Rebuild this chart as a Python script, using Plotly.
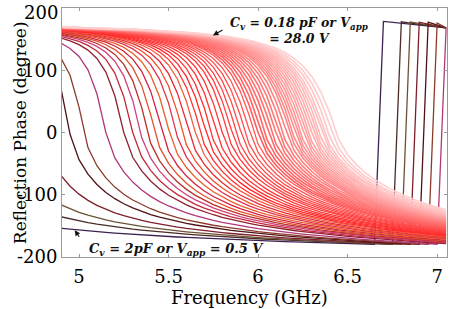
import math
import plotly.graph_objects as go

# ---------------- data ----------------
freq_ghz = [round(4.90 + 0.05 * i, 2) for i in range(44)]          # 4.90 ... 7.05 GHz

bias_v = [round(0.5 * (i + 1), 1) for i in range(56)]                # 0.5 V ... 28.0 V

# frequency where each curve crosses 0 degree (darkest -> lightest)
zero_cross_ghz = [3.995, 4.41, 4.60, 4.80, 4.949, 5.028, 5.15, 5.25, 5.30, 5.345,
                  5.385, 5.425, 5.465, 5.505, 5.545, 5.58, 5.615, 5.65, 5.68, 5.71,
                  5.74, 5.77, 5.80, 5.83, 5.855, 5.88, 5.905, 5.93, 5.955, 5.98,
                  6.00, 6.02, 6.04, 6.06, 6.08, 6.10, 6.12, 6.14, 6.16, 6.18,
                  6.195, 6.21, 6.225, 6.24, 6.255, 6.27, 6.285, 6.30, 6.315, 6.33,
                  6.345, 6.36, 6.375, 6.395, 6.415, 6.44]

# frequency where the seven darkest curves wrap from -180 to +180
wrap_ghz = [6.68, 6.77, 6.82, 6.87, 6.93, 6.98, 7.03]
wrap_phase_start = 179.0     # phase right after the wrap
wrap_phase_end = 168.0       # phase of wrapped curves at 7.05 GHz

y_tick_vals = [-200, -100, 0, 100, 200]
y_tick_text = ["-200", "-100", "0", "100", "200"]
x_tick_vals = [5, 5.5, 6, 6.5, 7]
x_tick_text = ["5", "5.5", "6", "6.5", "7"]

dark_colors = ["#3d2152", "#4a2b26", "#6b5234", "#7d1f2a", "#4f1216", "#8b3b2a", "#b03878",
               "#8f2030", "#c4283c", "#d0407a", "#b8302a", "#e0502c", "#d42040", "#e8602a",
               "#e03050", "#f0502a", "#e82838", "#f06040", "#ff3030"]


def mix(c1, c2, t):
    a = [int(c1[i:i + 2], 16) for i in (1, 3, 5)]
    b = [int(c2[i:i + 2], 16) for i in (1, 3, 5)]
    return "#" + "".join("%02x" % round(a[k] + (b[k] - a[k]) * t) for k in range(3))


n_light = len(zero_cross_ghz) - len(dark_colors)
line_colors = dark_colors + [mix("#ff2a2a", "#ffcfcf", i / (n_light - 1)) for i in range(n_light)]

# transition shape (darkest -> lightest): steep below the 0-degree point,
# slow tail above it that reaches -180 at the wrap frequency
F_DARK, F_LIGHT = 4.75, 6.44
W_LO = (0.05, 0.14)
W_HI = (0.18, 0.35)
P_HI = (0.70, 0.657)


def phase_curve(i):
    f0 = zero_cross_ghz[i]
    wrapped = i < len(wrap_ghz)
    fs = wrap_ghz[i] if wrapped else max(7.1, 1.36 * f0)
    t = min(max((f0 - F_DARK) / (F_LIGHT - F_DARK), 0.0), 1.0)
    w_lo = W_LO[0] + (W_LO[1] - W_LO[0]) * t ** 0.7
    th = min(max((f0 - 4.8) / (F_LIGHT - 4.8), 0.0), 1.0)
    w_hi = W_HI[0] + (W_HI[1] - W_HI[0]) * th
    p_hi = P_HI[0] + (P_HI[1] - P_HI[0]) * th
    out = []
    for f in freq_ghz:
        if wrapped and f >= fs:
            ph = wrap_phase_start - (wrap_phase_start - wrap_phase_end) * (f - fs) / (7.05 - fs)
        elif f <= f0:
            ph = 2 * math.degrees(math.atan((f0 - f) / w_lo))
        else:
            g = (1 - (f / fs) ** 2) / (1 - (f0 / fs) ** 2)
            ph = -2 * math.degrees(math.atan(((f - f0) / w_hi) ** p_hi / max(g, 1e-6)))
        out.append(ph)
    return out


fig = go.Figure()
for i in range(len(zero_cross_ghz)):
    fig.add_trace(go.Scatter(
        x=freq_ghz, y=phase_curve(i), mode="lines",
        line=dict(color=line_colors[i], width=1.3 if i < 30 else 1.6),
        name="V = %.1f V" % bias_v[i], showlegend=False, hoverinfo="skip"))

SERIF = "DejaVu Serif"
fig.update_layout(
    width=450, height=309,
    margin=dict(l=62, r=3, t=8, b=52, autoexpand=False),
    paper_bgcolor="white", plot_bgcolor="white",
    font=dict(family=SERIF, size=18, color="black"),
    showlegend=False,
)
fig.update_xaxes(
    range=[4.905, 7.055], tickvals=x_tick_vals, ticktext=x_tick_text,
    ticks="inside", ticklen=3, tickcolor="#9a9a9a", showline=True, linecolor="#9a9a9a",
    linewidth=1, mirror="ticks", showgrid=False, zeroline=False, automargin=False,
    tickfont=dict(family=SERIF, size=18), ticklabelstandoff=3, ticklabeloverflow="allow",
)
# the top label (200) is drawn a little lower, as in the reference, by an annotation below
fig.update_yaxes(
    range=[-200, 200], tickvals=y_tick_vals,
    ticktext=y_tick_text[:-1] + [""],
    ticks="inside", ticklen=3, tickcolor="#9a9a9a", showline=True, linecolor="#9a9a9a",
    linewidth=1, mirror="ticks", showgrid=False, zeroline=False, automargin=False,
    tickfont=dict(family=SERIF, size=18), ticklabeloverflow="allow",
)
fig.add_annotation(x=-0.006, y=0.98, xref="paper", yref="paper", showarrow=False,
                   text=y_tick_text[-1], font=dict(family=SERIF, size=18),
                   xanchor="right", yanchor="middle")

# axis titles placed like the reference
fig.add_annotation(x=0.487, y=-0.162, xref="paper", yref="paper", showarrow=False,
                   text="Frequency (GHz)", font=dict(family=SERIF, size=18),
                   xanchor="center", yanchor="middle")
fig.add_annotation(x=-0.11, y=0.5, xref="paper", yref="paper", showarrow=False,
                   text="Reflection Phase (degree)", font=dict(family=SERIF, size=17),
                   textangle=-90, xanchor="center", yanchor="middle")

ann_font = dict(family=SERIF, size=12.5, color="#111111")
fig.add_annotation(x=6.229, y=164, xref="x", yref="y", showarrow=False,
                   text="<b><i>C<sub>v</sub> = 0.18 pF or V<sub>app</sub></i></b><br><b><i>= 28.0 V</i></b>",
                   font=ann_font, align="center")
fig.add_annotation(x=5.748, y=156, xref="x", yref="y", text=" ", showarrow=True,
                   ax=14, ay=-8, arrowhead=2, arrowsize=1, arrowwidth=1.1, arrowcolor="#111111")
fig.add_annotation(x=5.545, y=-187.6, xref="x", yref="y", showarrow=False,
                   text="<b><i>C<sub>v</sub> = 2pF or V<sub>app</sub> = 0.5 V</i></b>",
                   font=dict(family=SERIF, size=13, color="#111111"), align="center")
fig.add_annotation(x=4.976, y=-157, xref="x", yref="y", text=" ", showarrow=True,
                   ax=9, ay=13, arrowhead=2, arrowsize=1, arrowwidth=1.1, arrowcolor="#111111")

fig.write_html("out.html", config={"displayModeBar": False},
               post_script="document.body.style.margin='0';document.body.style.overflow='hidden';")
